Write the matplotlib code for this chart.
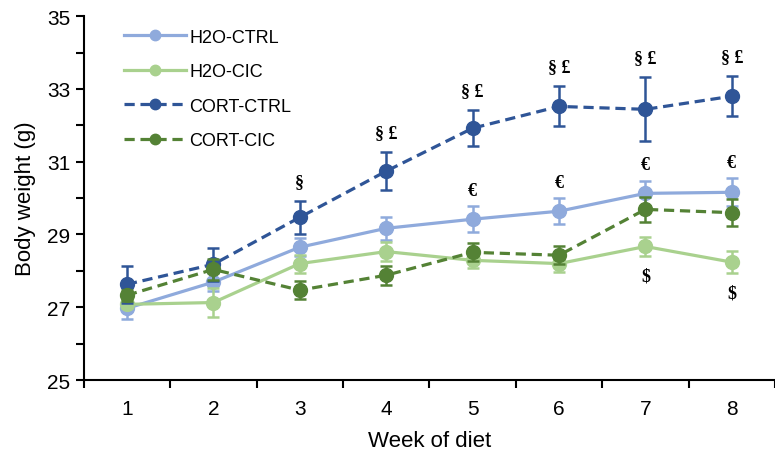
import matplotlib.pyplot as plt
import numpy as np

plt.rcParams['font.family'] = ['Liberation Sans', 'DejaVu Sans']

weeks = [1, 2, 3, 4, 5, 6, 7, 8]

h2o_ctrl = [26.97, 27.69, 28.65, 29.17, 29.42, 29.64, 30.13, 30.16]
h2o_ctrl_err = [0.30, 0.25, 0.25, 0.32, 0.35, 0.35, 0.35, 0.38]
h2o_cic = [27.08, 27.13, 28.20, 28.53, 28.29, 28.20, 28.67, 28.24]
h2o_cic_err = [0.10, 0.40, 0.25, 0.25, 0.22, 0.22, 0.27, 0.30]
cort_ctrl = [27.63, 28.18, 29.47, 30.74, 31.92, 32.52, 32.44, 32.80]
cort_ctrl_err = [0.50, 0.45, 0.45, 0.52, 0.50, 0.55, 0.88, 0.55]
cort_cic = [27.33, 28.04, 27.47, 27.88, 28.51, 28.43, 29.69, 29.60]
cort_cic_err = [0.15, 0.30, 0.25, 0.26, 0.25, 0.25, 0.35, 0.38]

labels = ["H2O-CTRL", "H2O-CIC", "CORT-CTRL", "CORT-CIC"]
colors = ["#8FAADC", "#A9D18E", "#2F5597", "#548235"]

# significance marks
sect_weeks = [3, 4, 5, 6, 7, 8]
sect_text = ["§", "§ £", "§ £", "§ £", "§ £", "§ £"]
euro_weeks = [5, 6, 7, 8]
dollar_weeks = [7, 8]

fig = plt.figure(figsize=(7.75, 4.52), dpi=100)
ax = fig.add_axes([0.108, 0.157, 0.892, 0.805])

series = [(h2o_ctrl, h2o_ctrl_err, "-"),
          (h2o_cic, h2o_cic_err, "-"),
          (cort_ctrl, cort_ctrl_err, (0, (3.2, 1.8))),
          (cort_cic, cort_cic_err, (0, (3.2, 1.8)))]
for (vals, errs, ls), lab, col in zip(series, labels, colors):
    ax.errorbar(weeks, vals, yerr=errs, fmt="none", ecolor=col, capsize=4.5,
                elinewidth=1.8, capthick=1.8)
    ax.plot(weeks, vals, color=col, lw=2.3, ls=ls, marker="o", ms=10,
            label=lab)

afont = dict(family=["Liberation Serif", "DejaVu Serif"], weight="bold",
             fontsize=13, ha="center", va="center")
for w, t in zip(sect_weeks, sect_text):
    i = weeks.index(w)
    ax.annotate(t, (w, cort_ctrl[i] + cort_ctrl_err[i]), xytext=(0, 14),
                textcoords="offset points", **afont)
for w in euro_weeks:
    i = weeks.index(w)
    ax.annotate("€", (w, h2o_ctrl[i] + h2o_ctrl_err[i]), xytext=(0, 11.5),
                textcoords="offset points", **afont)
for w in dollar_weeks:
    i = weeks.index(w)
    ax.annotate("$", (w, h2o_cic[i] - h2o_cic_err[i]), xytext=(0, -14.5),
                textcoords="offset points", **afont)

ax.set_xlim(0.5, 8.5)
ax.set_ylim(25, 35)
ax.set_xticks(np.arange(0.5, 9, 1))
ax.set_xticklabels([])
ax.set_xticks(weeks, minor=True)
ax.set_xticklabels([str(w) for w in weeks], minor=True)
ax.tick_params(axis="x", which="minor", length=0, labelsize=15, pad=14)
ax.tick_params(axis="x", which="major", length=6, width=1.5, direction="out")
ax.set_yticks(np.arange(25, 36, 2))
ax.set_yticks(np.arange(26, 35, 2), minor=True)
ax.tick_params(axis="y", which="both", length=6, width=1.5, direction="out",
               labelsize=15)
for s in ["top", "right"]:
    ax.spines[s].set_visible(False)
for s in ["left", "bottom"]:
    ax.spines[s].set_linewidth(1.5)

ax.set_xlabel("Week of diet", fontsize=16, labelpad=8)
ax.set_ylabel("Body weight (g)", fontsize=16, labelpad=8)

ax.legend(loc="upper left", bbox_to_anchor=(0.035, 1.01), frameon=False,
          fontsize=13, handlelength=3.4, labelspacing=0.97, handletextpad=0.2,
          markerscale=0.75)

fig.savefig("out.png", dpi=100)
